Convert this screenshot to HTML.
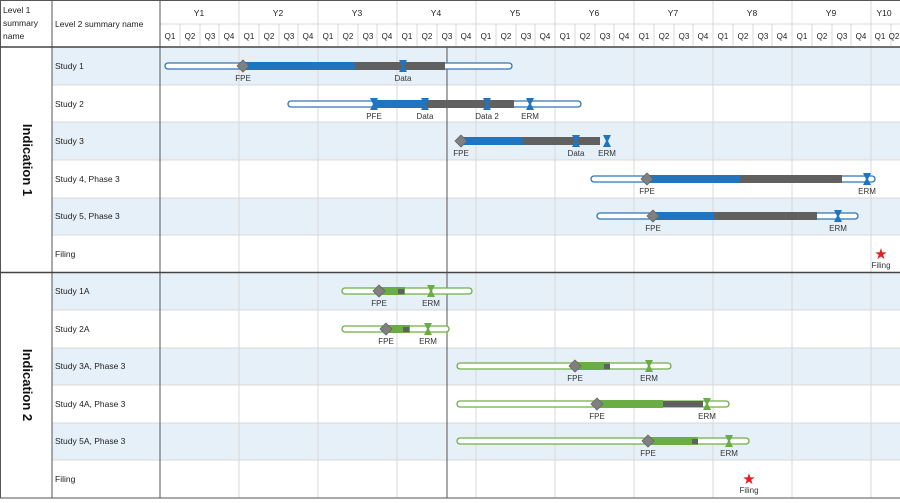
<!DOCTYPE html>
<html><head><meta charset="utf-8"><style>
body{margin:0;background:#fff}
svg{display:block;font-family:"Liberation Sans",sans-serif}
.t{font-size:8.5px;fill:#222}
.h{font-size:8.5px;fill:#222;text-anchor:middle}
.l{font-size:8px;fill:#333;text-anchor:middle}
</style></head><body>
<svg width="900" height="503" viewBox="0 0 900 503">
<!-- row backgrounds -->
<g fill="#e6f0f8">
<rect x="52" y="47" width="848" height="38"/>
<rect x="52" y="122" width="848" height="38"/>
<rect x="52" y="198" width="848" height="37"/>
<rect x="52" y="273" width="848" height="37"/>
<rect x="52" y="348" width="848" height="37"/>
<rect x="52" y="423" width="848" height="37"/>
</g>
<!-- row separators -->
<g stroke="#d8d8d8" stroke-width="1">
<line x1="52" y1="85" x2="900" y2="85"/><line x1="52" y1="122" x2="900" y2="122"/>
<line x1="52" y1="160" x2="900" y2="160"/><line x1="52" y1="198" x2="900" y2="198"/>
<line x1="52" y1="235" x2="900" y2="235"/>
<line x1="52" y1="310" x2="900" y2="310"/><line x1="52" y1="348" x2="900" y2="348"/>
<line x1="52" y1="385" x2="900" y2="385"/><line x1="52" y1="423" x2="900" y2="423"/>
<line x1="52" y1="460" x2="900" y2="460"/>
</g>
<!-- year lines body -->
<g stroke="#d8d8d8" stroke-width="1">
<line x1="239" y1="0" x2="239" y2="498"/><line x1="318" y1="0" x2="318" y2="498"/>
<line x1="397" y1="0" x2="397" y2="498"/><line x1="476" y1="0" x2="476" y2="498"/>
<line x1="555" y1="0" x2="555" y2="498"/><line x1="634" y1="0" x2="634" y2="498"/>
<line x1="713" y1="0" x2="713" y2="498"/><line x1="792" y1="0" x2="792" y2="498"/>
<line x1="871" y1="0" x2="871" y2="498"/>
</g>
<!-- quarter lines header -->
<g stroke="#d8d8d8" stroke-width="1">
<line x1="160" y1="24" x2="900" y2="24"/>
<line x1="180" y1="24" x2="180" y2="46"/><line x1="200" y1="24" x2="200" y2="46"/><line x1="219" y1="24" x2="219" y2="46"/>
<line x1="259" y1="24" x2="259" y2="46"/><line x1="279" y1="24" x2="279" y2="46"/><line x1="298" y1="24" x2="298" y2="46"/>
<line x1="338" y1="24" x2="338" y2="46"/><line x1="358" y1="24" x2="358" y2="46"/><line x1="377" y1="24" x2="377" y2="46"/>
<line x1="417" y1="24" x2="417" y2="46"/><line x1="437" y1="24" x2="437" y2="46"/><line x1="456" y1="24" x2="456" y2="46"/>
<line x1="496" y1="24" x2="496" y2="46"/><line x1="516" y1="24" x2="516" y2="46"/><line x1="535" y1="24" x2="535" y2="46"/>
<line x1="575" y1="24" x2="575" y2="46"/><line x1="595" y1="24" x2="595" y2="46"/><line x1="614" y1="24" x2="614" y2="46"/>
<line x1="654" y1="24" x2="654" y2="46"/><line x1="674" y1="24" x2="674" y2="46"/><line x1="693" y1="24" x2="693" y2="46"/>
<line x1="733" y1="24" x2="733" y2="46"/><line x1="753" y1="24" x2="753" y2="46"/><line x1="772" y1="24" x2="772" y2="46"/>
<line x1="812" y1="24" x2="812" y2="46"/><line x1="832" y1="24" x2="832" y2="46"/><line x1="851" y1="24" x2="851" y2="46"/>
<line x1="891" y1="24" x2="891" y2="46"/>
</g>
<!-- borders -->
<g stroke="#555" stroke-width="1">
<line x1="0" y1="0.5" x2="900" y2="0.5"/>
<line x1="0.5" y1="0" x2="0.5" y2="498"/>
<line x1="52" y1="0" x2="52" y2="498"/>
<line x1="160" y1="0" x2="160" y2="498"/>
<line x1="0" y1="498" x2="900" y2="498"/>
</g>
<line x1="0" y1="47" x2="900" y2="47" stroke="#444" stroke-width="1.5"/>
<line x1="0" y1="272.5" x2="900" y2="272.5" stroke="#444" stroke-width="1.5"/>
<line x1="447" y1="47" x2="447" y2="498" stroke="#555" stroke-width="1"/>
<!-- header text -->
<text class="t" x="3" y="13">Level 1</text><text class="t" x="3" y="26">summary</text><text class="t" x="3" y="39">name</text>
<text class="t" x="55" y="27">Level 2 summary name</text>
<g class="h">
<text class="h" x="199" y="16">Y1</text><text class="h" x="278" y="16">Y2</text><text class="h" x="357" y="16">Y3</text>
<text class="h" x="436" y="16">Y4</text><text class="h" x="515" y="16">Y5</text><text class="h" x="594" y="16">Y6</text>
<text class="h" x="673" y="16">Y7</text><text class="h" x="752" y="16">Y8</text><text class="h" x="831" y="16">Y9</text>
<text class="h" x="884" y="16">Y10</text>
</g>
<g font-size="8px" fill="#222" text-anchor="middle">
<text x="170" y="39">Q1</text><text x="190" y="39">Q2</text><text x="210" y="39">Q3</text><text x="229" y="39">Q4</text>
<text x="249" y="39">Q1</text><text x="269" y="39">Q2</text><text x="289" y="39">Q3</text><text x="308" y="39">Q4</text>
<text x="328" y="39">Q1</text><text x="348" y="39">Q2</text><text x="368" y="39">Q3</text><text x="387" y="39">Q4</text>
<text x="407" y="39">Q1</text><text x="427" y="39">Q2</text><text x="447" y="39">Q3</text><text x="466" y="39">Q4</text>
<text x="486" y="39">Q1</text><text x="506" y="39">Q2</text><text x="526" y="39">Q3</text><text x="545" y="39">Q4</text>
<text x="565" y="39">Q1</text><text x="585" y="39">Q2</text><text x="605" y="39">Q3</text><text x="624" y="39">Q4</text>
<text x="644" y="39">Q1</text><text x="664" y="39">Q2</text><text x="684" y="39">Q3</text><text x="703" y="39">Q4</text>
<text x="723" y="39">Q1</text><text x="743" y="39">Q2</text><text x="763" y="39">Q3</text><text x="782" y="39">Q4</text>
<text x="802" y="39">Q1</text><text x="822" y="39">Q2</text><text x="842" y="39">Q3</text><text x="861" y="39">Q4</text>
<text x="880" y="39">Q1</text><text x="894" y="39">Q2</text>
</g>
<!-- row labels -->
<text class="t" x="55" y="69">Study 1</text><text class="t" x="55" y="107">Study 2</text>
<text class="t" x="55" y="144">Study 3</text><text class="t" x="55" y="182">Study 4, Phase 3</text>
<text class="t" x="55" y="219">Study 5, Phase 3</text><text class="t" x="55" y="257">Filing</text>
<text class="t" x="55" y="294">Study 1A</text><text class="t" x="55" y="332">Study 2A</text>
<text class="t" x="55" y="369">Study 3A, Phase 3</text><text class="t" x="55" y="407">Study 4A, Phase 3</text>
<text class="t" x="55" y="444">Study 5A, Phase 3</text><text class="t" x="55" y="482">Filing</text>
<text transform="translate(23,160) rotate(90)" text-anchor="middle" font-size="13px" font-weight="bold" fill="#111">Indication 1</text>
<text transform="translate(23,385) rotate(90)" text-anchor="middle" font-size="13px" font-weight="bold" fill="#111">Indication 2</text>

<defs>
<g id="dia"><path d="M0,-6 L6,0 L0,6 L-6,0Z" fill="#808080" stroke="#666" stroke-width="0.8"/></g>
<g id="mb"><path d="M-4,-6 L4,-6 L1,0 L4,6 L-4,6 L-1,0Z" fill="#1f75c0"/></g>
<g id="mg"><path d="M-4,-6 L4,-6 L1,0 L4,6 L-4,6 L-1,0Z" fill="#6aad45"/></g>
</defs>

<!-- Indication 1 bars -->
<g stroke="#2e75b6" stroke-width="1.3" fill="#fff">
<rect x="165" y="63" width="347" height="6" rx="3"/>
<rect x="288" y="101" width="293" height="6" rx="3"/>
<rect x="591" y="176" width="284" height="6" rx="3"/>
<rect x="597" y="213" width="261" height="6" rx="3"/>
</g>
<g fill="#1f75c0">
<rect x="243" y="62" width="112" height="8"/>
<rect x="374" y="100" width="51" height="8"/>
<rect x="461" y="137" width="62" height="8"/>
<rect x="647" y="175" width="93" height="8"/>
<rect x="653" y="212" width="61" height="8"/>
</g>
<g fill="#606060">
<rect x="355" y="62" width="90" height="8"/>
<rect x="425" y="100" width="89" height="8"/>
<rect x="523" y="137" width="77" height="8"/>
<rect x="740" y="175" width="102" height="8"/>
<rect x="714" y="212" width="103" height="8"/>
</g>
<use href="#dia" x="243" y="66"/><use href="#mb" x="403" y="66"/>
<use href="#mb" x="374" y="104"/><use href="#mb" x="425" y="104"/><use href="#mb" x="487" y="104"/><use href="#mb" x="530" y="104"/>
<use href="#dia" x="461" y="141"/><use href="#mb" x="576" y="141"/><use href="#mb" x="607" y="141"/>
<use href="#dia" x="647" y="179"/><use href="#mb" x="867" y="179"/>
<use href="#dia" x="653" y="216"/><use href="#mb" x="838" y="216"/>
<text class="l" x="243" y="81">FPE</text><text class="l" x="403" y="81">Data</text>
<text class="l" x="374" y="119">PFE</text><text class="l" x="425" y="119">Data</text><text class="l" x="487" y="119">Data 2</text><text class="l" x="530" y="119">ERM</text>
<text class="l" x="461" y="156">FPE</text><text class="l" x="576" y="156">Data</text><text class="l" x="607" y="156">ERM</text>
<text class="l" x="647" y="194">FPE</text><text class="l" x="867" y="194">ERM</text>
<text class="l" x="653" y="231">FPE</text><text class="l" x="838" y="231">ERM</text>
<text x="881" y="259" text-anchor="middle" font-size="15px" fill="#e02020">★</text>
<text class="l" x="881" y="268">Filing</text>

<!-- Indication 2 bars -->
<g stroke="#70ad47" stroke-width="1.3" fill="#fff">
<rect x="342" y="288" width="130" height="6" rx="3"/>
<rect x="342" y="326" width="107" height="6" rx="3"/>
<rect x="457" y="363" width="214" height="6" rx="3"/>
<rect x="457" y="401" width="272" height="6" rx="3"/>
<rect x="457" y="438" width="292" height="6" rx="3"/>
</g>
<g fill="#6aad45">
<rect x="378" y="287" width="27" height="8"/>
<rect x="386" y="325" width="24" height="8"/>
<rect x="575" y="362" width="35" height="8"/>
<rect x="597" y="400" width="66" height="8"/>
<rect x="648" y="437" width="50" height="8"/>
</g>
<g fill="#606060">
<rect x="398" y="289" width="6" height="5"/>
<rect x="403" y="327" width="6" height="5"/>
<rect x="604" y="364" width="6" height="5"/>
<rect x="663" y="401" width="40" height="6"/>
<rect x="692" y="439" width="6" height="5"/>
</g>
<use href="#dia" x="379" y="291"/><use href="#mg" x="431" y="291"/>
<use href="#dia" x="386" y="329"/><use href="#mg" x="428" y="329"/>
<use href="#dia" x="575" y="366"/><use href="#mg" x="649" y="366"/>
<use href="#dia" x="597" y="404"/><use href="#mg" x="707" y="404"/>
<use href="#dia" x="648" y="441"/><use href="#mg" x="729" y="441"/>
<text class="l" x="379" y="306">FPE</text><text class="l" x="431" y="306">ERM</text>
<text class="l" x="386" y="344">FPE</text><text class="l" x="428" y="344">ERM</text>
<text class="l" x="575" y="381">FPE</text><text class="l" x="649" y="381">ERM</text>
<text class="l" x="597" y="419">FPE</text><text class="l" x="707" y="419">ERM</text>
<text class="l" x="648" y="456">FPE</text><text class="l" x="729" y="456">ERM</text>
<text x="749" y="484" text-anchor="middle" font-size="15px" fill="#e02020">★</text>
<text class="l" x="749" y="493">Filing</text>
</svg>
</body></html>
